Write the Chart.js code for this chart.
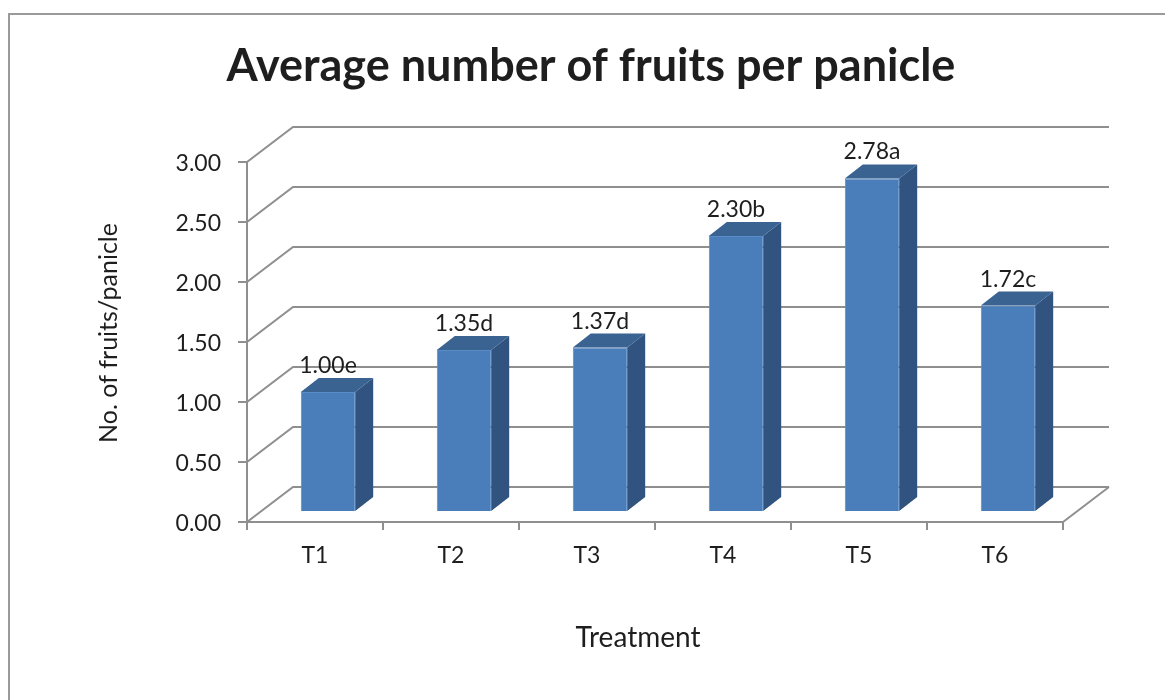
<!DOCTYPE html>
<html>
<head>
<meta charset="utf-8">
<script src="https://cdn.jsdelivr.net/npm/chart.js@4.4.1/dist/chart.umd.min.js"></script>
<style>
  html, body { margin: 0; padding: 0; background: #fff; }
</style>
</head>
<body>
<canvas id="myChart" width="1165" height="700"></canvas>
<script>
var treatments = ['T1', 'T2', 'T3', 'T4', 'T5', 'T6'];
var fruitsPerPanicle = [1.00, 1.35, 1.37, 2.30, 2.78, 1.72];
var letters = ['e', 'd', 'd', 'b', 'a', 'c'];
var yTicks = [0, 0.5, 1, 1.5, 2, 2.5, 3];
var yTickLabels = ['0.00', '0.50', '1.00', '1.50', '2.00', '2.50', '3.00'];

var chartTitle = 'Average number of fruits per panicle';
var xTitle = 'Treatment';
var yTitle = 'No. of fruits/panicle';

var fontFamily = "Lato, 'Open Sans', sans-serif";
var gridColor = '#8f8f8f';
var textColor = '#1e1e1e';

// 3d look: back wall offset, bar position inside the box, bar depth
var wallDX = 46, wallDY = -35;
var barDX = 13, barDY = -10;
var sideDX = 18, sideDY = -14;

Chart.defaults.font.family = fontFamily;
Chart.defaults.color = textColor;

var box3d = {
    id: 'box3d',
    beforeDraw: function(chart) {
        var ctx = chart.ctx;
        ctx.save();
        ctx.fillStyle = '#fff';
        ctx.fillRect(0, 0, chart.width, chart.height);
        ctx.strokeStyle = '#9a9a9a';
        ctx.lineWidth = 2;
        ctx.strokeRect(9, 14, chart.width + 20, chart.height + 20);
        ctx.restore();
    },
    beforeDatasetsDraw: function(chart) {
        var ctx = chart.ctx;
        var a = chart.chartArea;
        var ys = chart.scales.y;
        ctx.save();
        ctx.strokeStyle = gridColor;
        ctx.lineWidth = 2;
        yTicks.forEach(function(v) {
            var y = ys.getPixelForValue(v);
            ctx.beginPath();
            ctx.moveTo(a.left, y);
            ctx.lineTo(a.left + wallDX, y + wallDY);
            ctx.lineTo(a.right + wallDX, y + wallDY);
            ctx.stroke();
        });
        var y0 = ys.getPixelForValue(0);
        ctx.beginPath();
        ctx.moveTo(a.right, y0);
        ctx.lineTo(a.right + wallDX, y0 + wallDY);
        ctx.stroke();
        ctx.restore();
        // front faces of the bars sit a bit back in the box
        ctx.save();
        ctx.translate(barDX, barDY);
    },
    afterDatasetsDraw: function(chart) {
        var ctx = chart.ctx;
        ctx.restore();
        var meta = chart.getDatasetMeta(0);
        ctx.save();
        meta.data.forEach(function(bar, i) {
            var xl = bar.x - bar.width / 2 + barDX;
            var xr = bar.x + bar.width / 2 + barDX;
            var top = bar.y + barDY;
            var bottom = bar.base + barDY;
            // side
            ctx.fillStyle = '#31537f';
            ctx.beginPath();
            ctx.moveTo(xr, top);
            ctx.lineTo(xr + sideDX, top + sideDY);
            ctx.lineTo(xr + sideDX, bottom + sideDY);
            ctx.lineTo(xr, bottom);
            ctx.closePath();
            ctx.fill();
            // top
            ctx.fillStyle = '#3a6392';
            ctx.beginPath();
            ctx.moveTo(xl, top);
            ctx.lineTo(xl + sideDX, top + sideDY);
            ctx.lineTo(xr + sideDX, top + sideDY);
            ctx.lineTo(xr, top);
            ctx.closePath();
            ctx.fill();
            // label
            ctx.fillStyle = textColor;
            ctx.font = '23px ' + fontFamily;
            ctx.textAlign = 'center';
            ctx.textBaseline = 'alphabetic';
            ctx.fillText(fruitsPerPanicle[i].toFixed(2) + letters[i], (xl + xr) / 2, top + sideDY - 5);
        });
        ctx.restore();
    },
    afterDraw: function(chart) {
        var ctx = chart.ctx;
        ctx.save();
        ctx.fillStyle = textColor;
        ctx.textAlign = 'center';
        ctx.textBaseline = 'alphabetic';
        ctx.font = 'bold 45px ' + fontFamily;
        ctx.fillText(chartTitle, 591, 81);
        ctx.font = '28px ' + fontFamily;
        ctx.fillText(xTitle, 638, 647);
        ctx.translate(117, 333);
        ctx.rotate(-Math.PI / 2);
        ctx.font = '25px ' + fontFamily;
        ctx.fillText(yTitle, 0, 0);
        ctx.restore();
    }
};

var ctx = document.getElementById('myChart').getContext('2d');

var chart = new Chart(ctx, {
    type: 'bar',
    data: {
        labels: treatments,
        datasets: [{
            label: 'No. of fruits/panicle',
            data: fruitsPerPanicle,
            backgroundColor: '#4a7ebb',
            borderColor: '#5b8cc6',
            borderWidth: 1,
            categoryPercentage: 1,
            barPercentage: 0.4
        }]
    },
    options: {
        responsive: false,
        animation: false,
        layout: {
            padding: { left: 0, right: 102, top: 162, bottom: 98 }
        },
        plugins: {
            legend: { display: false },
            tooltip: { enabled: false }
        },
        scales: {
            x: {
                grid: {
                    drawOnChartArea: false,
                    tickLength: 8,
                    color: gridColor,
                    lineWidth: 2,
                    offset: true
                },
                border: { color: gridColor, width: 2 },
                ticks: {
                    padding: 12,
                    font: { size: 23 },
                    color: textColor
                },
                afterFit: function(scale) { scale.height = 80; }
            },
            y: {
                min: 0,
                max: 3,
                grid: {
                    drawOnChartArea: false,
                    tickLength: 9,
                    color: gridColor,
                    lineWidth: 2
                },
                border: { color: gridColor, width: 2 },
                afterBuildTicks: function(scale) {
                    scale.ticks = yTicks.map(function(v) { return { value: v }; });
                },
                ticks: {
                    padding: 17,
                    labelOffset: 2,
                    font: { size: 23 },
                    color: textColor,
                    callback: function(value, index) { return yTickLabels[index]; }
                },
                afterFit: function(scale) { scale.width = 247; }
            }
        }
    },
    plugins: [box3d]
});
</script>
</body>
</html>
